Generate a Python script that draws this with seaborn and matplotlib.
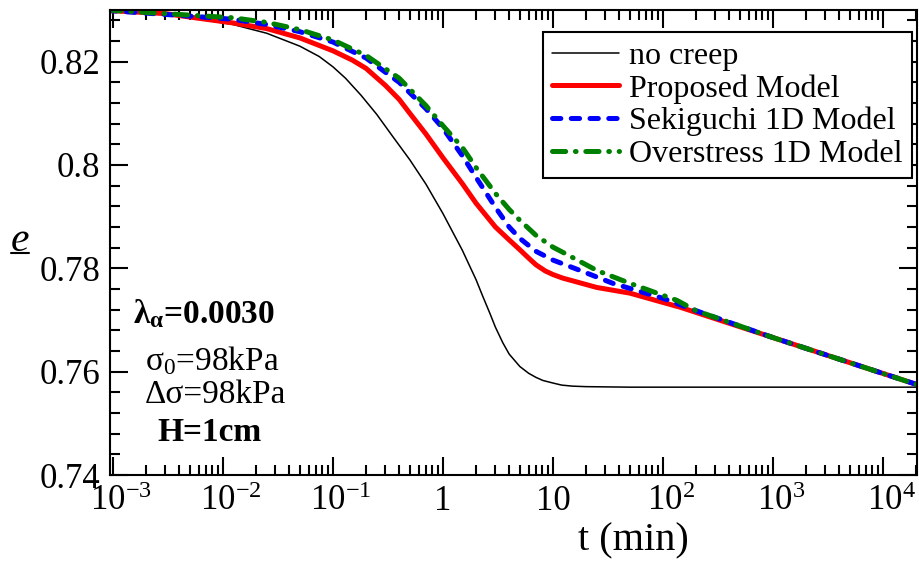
import numpy as np
import pandas as pd
import matplotlib
matplotlib.use("Agg")
import matplotlib.pyplot as plt
from matplotlib.lines import Line2D
from matplotlib.transforms import ScaledTranslation
from matplotlib.ticker import LogLocator, MultipleLocator, NullFormatter
import seaborn as sns

# ---- consolidation curves: void ratio e vs time t (min) ----
t_nocreep = [0.0009, 0.002, 0.005, 0.0123, 0.025, 0.05, 0.075, 0.1, 0.13, 0.18, 0.25,
             0.35, 0.5, 0.7, 1.0, 1.5, 2.0, 2.3, 2.67, 3.0, 3.5, 4.0, 5.0, 6.0, 7.0,
             8.1, 10, 12, 15, 20, 50, 20400]
e_nocreep = [0.8299, 0.8295, 0.8285, 0.8272, 0.8255, 0.8230, 0.8210, 0.8190, 0.8168,
             0.8135, 0.8098, 0.8055, 0.8010, 0.7963, 0.7906, 0.7835, 0.7778, 0.7746,
             0.7713, 0.7686, 0.7656, 0.7634, 0.7610, 0.7597, 0.7589, 0.7583, 0.7578,
             0.7574, 0.7572, 0.7571, 0.7570, 0.7570]

t_proposed = [0.0009, 0.003, 0.006, 0.0123, 0.025, 0.05, 0.1, 0.15, 0.2, 0.3, 0.4,
              0.5, 0.7, 1.0, 1.5, 2.0, 3.0, 4.0, 5.0, 6.0, 7.0, 8.5, 10, 12.3, 15, 25,
              50, 100, 142, 1000, 20400]
e_proposed = [0.8299, 0.8293, 0.8284, 0.8275, 0.8264, 0.8246, 0.8221, 0.8203, 0.8187,
              0.8154, 0.8127, 0.8100, 0.8060, 0.8014, 0.7964, 0.7926, 0.7880, 0.7855,
              0.7836, 0.7820, 0.7807, 0.7795, 0.7788, 0.7781, 0.7776, 0.7763, 0.7752,
              0.7734, 0.7725, 0.7666, 0.7575]

t_sekiguchi = [0.0009, 0.006, 0.0123, 0.025, 0.05, 0.1, 0.2, 0.4, 0.7, 1.0, 1.5,
               2.0, 3.0, 4.0, 5.0, 7.0, 10, 17.6, 35, 100, 200, 1000, 20400]
e_sekiguchi = [0.8299, 0.8287, 0.8282, 0.8272, 0.8258, 0.8238, 0.8207, 0.8160, 0.8109,
               0.8071, 0.8018, 0.7976, 0.7918, 0.7880, 0.7858, 0.7833, 0.7816, 0.7796,
               0.7771, 0.7742, 0.7718, 0.7666, 0.7575]

t_overstress = [0.0009, 0.006, 0.0123, 0.025, 0.05, 0.1, 0.2, 0.4, 0.7, 1.0, 1.5,
                2.0, 3.0, 4.0, 5.0, 7.0, 10, 12.3, 25, 50, 134, 200, 1000, 20400]
e_overstress = [0.8300, 0.8289, 0.8285, 0.8276, 0.8262, 0.8242, 0.8212, 0.8168, 0.8115,
                0.8076, 0.8034, 0.7995, 0.7945, 0.7914, 0.7893, 0.7864, 0.7841, 0.7831,
                0.7796, 0.7771, 0.7738, 0.7718, 0.7666, 0.7575]

series_names = ["no creep", "Proposed Model", "Sekiguchi 1D Model", "Overstress 1D Model"]

xtick_values = [1e-3, 1e-2, 1e-1, 1, 10, 1e2, 1e3, 1e4]
xtick_labels = [r"$10^{-3}$", r"$10^{-2}$", r"$10^{-1}$", "1", "10",
                r"$10^{2}$", r"$10^{3}$", r"$10^{4}$"]
ytick_values = [0.74, 0.76, 0.78, 0.80, 0.82]
ytick_labels = ["0.74", "0.76", "0.78", "0.8", "0.82"]

# ---- style ----
sns.set_theme(style="ticks")
plt.rcParams.update({
    "font.family": ["Liberation Serif", "DejaVu Serif"],
    "mathtext.fontset": "custom",
    "mathtext.rm": "Liberation Serif",
    "mathtext.it": "Liberation Serif:italic",
    "mathtext.bf": "Liberation Serif:bold",
    "axes.linewidth": 1.5,
    "lines.scale_dashes": False,
    "text.color": "black",
    "axes.labelcolor": "black",
    "axes.edgecolor": "black",
    "xtick.color": "black",
    "ytick.color": "black",
})

W, H = 919, 563
fig = plt.figure(figsize=(W / 100, H / 100), dpi=100)
fig.patch.set_facecolor("white")
ax = fig.add_axes([110 / W, 88 / H, 807 / W, 465 / H])
ax.set_facecolor("white")

frames = []
for name, t, e in [(series_names[0], t_nocreep, e_nocreep),
                   (series_names[1], t_proposed, e_proposed),
                   (series_names[2], t_sekiguchi, e_sekiguchi),
                   (series_names[3], t_overstress, e_overstress)]:
    frames.append(pd.DataFrame({"t": t, "e": e, "model": name}))
df = pd.concat(frames, ignore_index=True)

styles = {
    "no creep": dict(color="black", lw=1.1, dashes=None),
    "Proposed Model": dict(color="#ff0000", lw=3.6, dashes=None),
    "Sekiguchi 1D Model": dict(color="#0000ff", lw=3.6, dashes=(6, 7.5)),
    "Overstress 1D Model": dict(color="#008000", lw=3.6, dashes=(9.5, 7, 0.5, 7)),
}

for name in series_names:
    st = styles[name]
    sub = df[df["model"] == name]
    sns.lineplot(data=sub, x="t", y="e", ax=ax, color=st["color"], lw=st["lw"],
                 label=name, estimator=None, sort=False, legend=False)
    line = ax.lines[-1]
    line.set_solid_capstyle("round")
    line.set_solid_joinstyle("round")
    if st["dashes"] is not None:
        line.set_dashes(st["dashes"])
        line.set_dash_capstyle("round")

ax.set_xscale("log")
ax.set_xlim(9.4e-4, 2.04e4)
ax.set_ylim(0.74, 0.83)
ax.set_xticks(xtick_values)
ax.set_xticklabels(xtick_labels)
ax.xaxis.set_minor_locator(LogLocator(base=10, subs=np.arange(2, 10), numticks=100))
ax.xaxis.set_minor_formatter(NullFormatter())
ax.set_yticks(ytick_values)
ax.set_yticklabels(ytick_labels)
ax.yaxis.set_minor_locator(MultipleLocator(0.004))
ax.tick_params(which="both", direction="in", top=True, right=True, width=1.5,
               color="black", labelcolor="black")
ax.tick_params(which="major", length=13, labelsize=25, pad=7)
ax.tick_params(which="minor", length=7)
ax.set_xlabel("")
ax.set_ylabel("")
for sp in ax.spines.values():
    sp.set_color("black")
    sp.set_linewidth(1.5)

# keep the "10" of the power labels centred on the tick
shift = ScaledTranslation(8 / 100, 0, fig.dpi_scale_trans)
for lab in ax.get_xticklabels():
    if "^" in lab.get_text():
        lab.set_transform(lab.get_transform() + shift)

handles, labels = ax.get_legend_handles_labels()
leg = ax.legend(handles, labels, loc="upper right",
                bbox_to_anchor=((912 - 110) / 807, 1 - 22 / 465),
                borderaxespad=0, fontsize=23, frameon=True, fancybox=False,
                framealpha=1, edgecolor="black", handlelength=2.1,
                handletextpad=0.3, labelspacing=0.1, borderpad=0.3)
leg.get_frame().set_linewidth(1.5)


def fx(px):
    return px / W


def fy(py):
    return 1 - py / H


# axis titles
fig.text(fx(633), fy(541), "t (min)", ha="center", va="center", fontsize=29)
fig.text(fx(20), fy(241), "e", ha="center", va="center", fontsize=30, style="italic")
fig.add_artist(Line2D([fx(11), fx(29)], [fy(253), fy(253)], color="black", lw=1.5,
                      transform=fig.transFigure))

# test condition notes
fig.text(fx(133), fy(323), r"$\mathbf{\lambda_{\alpha}}$=0.0030", ha="left",
         va="baseline", fontsize=24, fontweight="bold")
fig.text(fx(145), fy(370), r"$\mathrm{\sigma_0}$=98kPa", ha="left", va="baseline",
         fontsize=24)
fig.text(fx(145), fy(403), "Δσ=98kPa", ha="left", va="baseline", fontsize=24)
fig.text(fx(157), fy(441), "H=1cm", ha="left", va="baseline", fontsize=24,
         fontweight="bold")

fig.savefig("out.png", dpi=100, facecolor="white")
